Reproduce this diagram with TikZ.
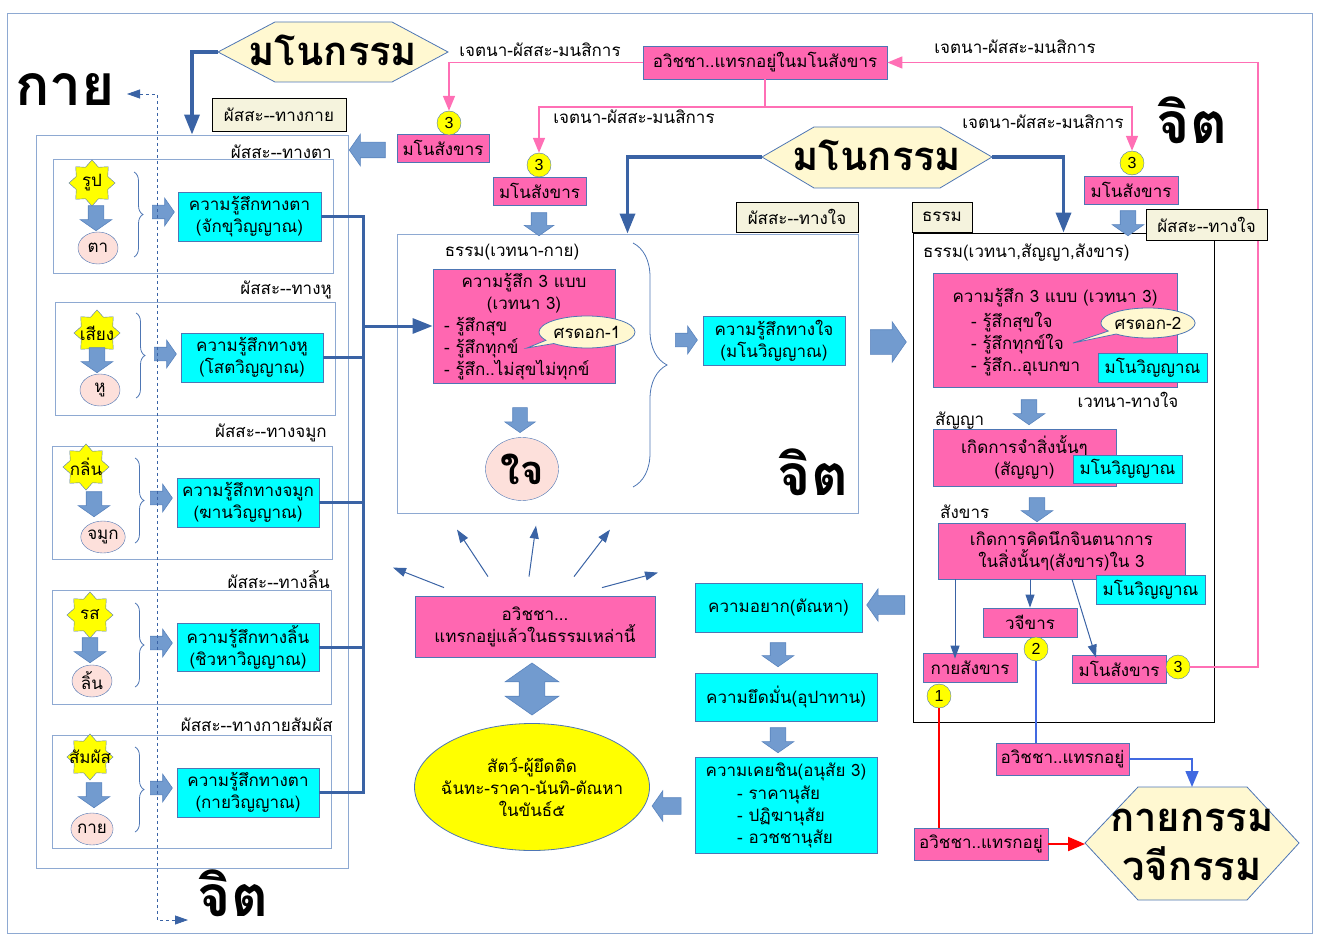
\documentclass[tikz,border=0pt]{standalone}
\usepackage{fontspec}
\setmainfont[Script=Thai]{Loma}
\newfontfamily\numfont{Liberation Sans}
\usetikzlibrary{arrows.meta,shapes.geometric,shapes.arrows,shapes.callouts,decorations.pathreplacing}

\definecolor{framec}{HTML}{8EA9D2}
\definecolor{edgec}{HTML}{4E76B4}
\definecolor{lineblue}{HTML}{3A63A5}
\definecolor{arrowfill}{HTML}{729BCF}
\definecolor{arrowedge}{HTML}{5A84BE}
\definecolor{pinkc}{HTML}{FF67B1}
\definecolor{pinkl}{HTML}{FF6FB5}
\definecolor{cyanc}{HTML}{00FFFF}
\definecolor{creamc}{HTML}{FFF8D1}
\definecolor{tagc}{HTML}{F5F3DD}
\definecolor{organc}{HTML}{FDE0DB}
\definecolor{starc}{HTML}{FFFF00}
\definecolor{royalc}{HTML}{4169E1}

\newcommand\normtxt{\fontsize{17}{22}\selectfont}
\newcommand\bigtxt{\fontsize{57}{60}\selectfont\bfseries}
\newcommand\hextxt{\fontsize{40}{49}\selectfont\bfseries}

\begin{document}
\begin{tikzpicture}[x=1pt,y=-1pt]
	\tikzstyle{box} = [draw=edgec,line width=0.8pt,inner sep=0pt,font=\normtxt,align=center]
	\tikzstyle{cyanbox} = [box,fill=cyanc]
	\tikzstyle{pinkbox} = [box,fill=pinkc]
	\tikzstyle{tagbox} = [draw=black,line width=0.8pt,fill=tagc,inner sep=0pt,font=\normtxt]
	\tikzstyle{panel} = [draw=framec,line width=0.9pt,inner sep=0pt]
	\tikzstyle{lbl} = [inner sep=0pt,font=\normtxt]
	\tikzstyle{objstar} = [star,star points=8,star point ratio=1.35,draw=edgec,fill=starc,minimum size=46pt,inner sep=0pt,font=\normtxt]
	\tikzstyle{organ} = [ellipse,draw=edgec,fill=organc,minimum width=40pt,minimum height=32pt,inner sep=0pt,font=\normtxt]
	\tikzstyle{numc} = [circle,draw=edgec,fill=starc,minimum size=24pt,inner sep=0pt,font={\numfont\fontsize{16}{16}\selectfont}]
	\tikzstyle{blockarrow} = [single arrow,draw=arrowedge,fill=arrowfill,line width=0.6pt,inner xsep=0pt,inner ysep=7.5pt,single arrow head extend=8pt,single arrow head indent=0pt,single arrow tip angle=110]
	\tikzstyle{hexshape} = [draw=edgec,line width=0.8pt,fill=creamc]
	\tikzstyle{bigword} = [inner sep=0pt,font=\bigtxt]
	\tikzstyle{thickline} = [draw=lineblue,line width=3.5pt,>={Triangle[length=20pt,width=15pt]}]
	\tikzstyle{busline} = [draw=lineblue,line width=3pt,>={Triangle[length=20pt,width=15pt]}]
	\tikzstyle{pinkwire} = [draw=pinkl,line width=1.6pt,>={Triangle[length=15pt,width=12pt]}]
	\tikzstyle{thinarrow} = [draw=lineblue,line width=1pt,>={Triangle[length=13pt,width=9pt]}]
	\tikzstyle{sensebrace} = [draw=edgec,line width=0.8pt,decorate,decoration={brace,amplitude=9pt}]
	\tikzstyle{talk} = [ellipse callout,draw=edgec,line width=0.8pt,fill=creamc,minimum width=96pt,minimum height=32pt,inner sep=0pt,font=\normtxt]

	\useasboundingbox (0,0) rectangle (1321,941);
	\draw[draw=framec,line width=1pt] (7,14) rectangle (1312,933);

	% left: the five doors
	\node[bigword] (kay) at (65,90) {กาย};
	\node[bigword] (jit1) at (233,893) {จิต};
	\node[panel,minimum width=312pt,minimum height=733pt] (lbox) at (192,501.5) {};

	\node[panel,minimum width=280pt,minimum height=114pt] (sb1) at (193,216) {};
	\node[panel,minimum width=280pt,minimum height=113pt] (sb2) at (195,358.5) {};
	\node[panel,minimum width=280pt,minimum height=113pt] (sb3) at (192,502.5) {};
	\node[panel,minimum width=279pt,minimum height=114pt] (sb4) at (191.5,647) {};
	\node[panel,minimum width=279pt,minimum height=113pt] (sb5) at (191.5,791.5) {};

	\node[lbl,anchor=east] (lt1) at (332,152) {ผัสสะ-{}-ทางตา};
	\node[lbl,anchor=east] (lt2) at (332,290) {ผัสสะ-{}-ทางหู};
	\node[lbl,anchor=east] (lt3) at (327,433) {ผัสสะ-{}-ทางจมูก};
	\node[lbl,anchor=east] (lt4) at (330,580) {ผัสสะ-{}-ทางลิ้น};
	\node[lbl,anchor=east] (lt5) at (333,725) {ผัสสะ-{}-ทางกายสัมผัส};

	\node[objstar] (st1) at (92,183) {\makebox[0pt]{รูป}};
	\node[objstar] (st2) at (97,333) {\makebox[0pt]{เสียง}};
	\node[objstar] (st3) at (86,467) {\makebox[0pt]{กลิ่น}};
	\node[objstar] (st4) at (90,615) {\makebox[0pt]{รส}};
	\node[objstar] (st5) at (90,757) {\makebox[0pt]{สัมผัส}};

	\node[blockarrow,minimum height=25pt,rotate=-90] (da1) at (96,215.5) {};
	\node[blockarrow,minimum height=25pt,rotate=-90] (da2) at (97,357.5) {};
	\node[blockarrow,minimum height=25pt,rotate=-90] (da3) at (94,501.5) {};
	\node[blockarrow,minimum height=25pt,rotate=-90] (da4) at (90,647.5) {};
	\node[blockarrow,minimum height=25pt,rotate=-90] (da5) at (94,792.5) {};

	\node[organ] (og1) at (98,248) {ตา};
	\node[organ] (og2) at (100,390) {หู};
	\node[organ] (og3) at (103,537) {จมูก};
	\node[organ] (og4) at (92,681) {ลิ้น};
	\node[organ] (og5) at (92,829) {กาย};

	\draw[sensebrace] (134,172) -- (134,257);
	\draw[sensebrace] (136,313) -- (136,398);
	\draw[sensebrace] (135,458) -- (135,543);
	\draw[sensebrace] (135,603) -- (135,687);
	\draw[sensebrace] (135,747) -- (135,832);

	\node[blockarrow,minimum height=22pt,inner ysep=6.5pt,single arrow head extend=7pt] (ra1) at (161,212) {};
	\node[blockarrow,minimum height=22pt,inner ysep=6.5pt,single arrow head extend=7pt] (ra2) at (163,354) {};
	\node[blockarrow,minimum height=22pt,inner ysep=6.5pt,single arrow head extend=7pt] (ra3) at (159,498) {};
	\node[blockarrow,minimum height=22pt,inner ysep=6.5pt,single arrow head extend=7pt] (ra4) at (159,643) {};
	\node[blockarrow,minimum height=22pt,inner ysep=6.5pt,single arrow head extend=7pt] (ra5) at (159,788) {};

	\node[cyanbox,minimum width=143pt,minimum height=49pt] (cy1) at (249.5,216.5) {ความรู้สึกทางตา\\(จักขุวิญญาณ)};
	\node[cyanbox,minimum width=142pt,minimum height=49pt] (cy2) at (252,357.5) {ความรู้สึกทางหู\\(โสตวิญญาณ)};
	\node[cyanbox,minimum width=142pt,minimum height=49pt] (cy3) at (248,502.5) {ความรู้สึกทางจมูก\\(ฆานวิญญาณ)};
	\node[cyanbox,minimum width=142pt,minimum height=48pt] (cy4) at (248,647) {ความรู้สึกทางลิ้น\\(ชิวหาวิญญาณ)};
	\node[cyanbox,minimum width=142pt,minimum height=49pt] (cy5) at (248,792.5) {ความรู้สึกทางตา\\(กายวิญญาณ)};

	\coordinate (dk) at (127,94);
	\coordinate (dmid) at (157,500);
	\coordinate (dj) at (188,920);
	\draw[draw=lineblue,line width=0.8pt,dashed,{Triangle[length=13pt,width=9pt]}-{Triangle[length=13pt,width=9pt]}] (dk) -| (dmid) |- (dj);

	% top left
	\draw[hexshape] (218,52) -- (275,22) -- (392,22) -- (448,52) -- (392,82) -- (275,82) -- cycle;
	\node[inner sep=0pt,font=\hextxt] (mk1) at (333,50) {มโนกรรม};
	\coordinate (mk1w) at (218,52);
	\draw[thickline,->] (mk1w) -| (lbox.north);
	\node[tagbox,minimum width=134pt,minimum height=33pt] (pt1) at (279,115) {ผัสสะ-{}-ทางกาย};

	\node[pinkbox,minimum width=92pt,minimum height=28pt] (ms1) at (443,148) {มโนสังขาร};
	\node[numc] (c3a) at (449,123) {3};
	\node[blockarrow,minimum height=36pt,rotate=180] (la1) at (370,150) {};

	% bus to the middle
	\coordinate (bus) at (363,500);
	\draw[busline] (cy1.east) -| (bus) |- (cy5.east);
	\draw[busline] (cy2.east) -- (cy2.east -| bus);
	\draw[busline] (cy3.east) -- (cy3.east -| bus);
	\draw[busline] (cy4.east) -- (cy4.east -| bus);

	% top middle
	\node[pinkbox,minimum width=244pt,minimum height=33pt] (avm) at (765,62.5) {อวิชชา..แทรกอยู่ในมโนสังขาร};
	\node[pinkbox,minimum width=93pt,minimum height=28pt] (ms2) at (539.5,191) {มโนสังขาร};
	\node[numc] (c3b) at (539,165) {3};
	\node[pinkbox,minimum width=94pt,minimum height=28pt] (ms3) at (1131,190) {มโนสังขาร};
	\node[numc] (c3c) at (1132,163) {3};
	\node[bigword] (jit3) at (1192,120) {จิต};

	\coordinate (sp) at (765,107);
	\draw[pinkwire,->] (avm.west) -| (c3a.north);
	\draw[pinkwire] (avm.south) -- (sp);
	\draw[pinkwire,->] (sp) -| (c3b.north);
	\draw[pinkwire,->] (sp) -| (c3c.north);
	\node[lbl] (je1) at (540,50) {เจตนา-ผัสสะ-มนสิการ};
	\node[lbl] (je2) at (634,117) {เจตนา-ผัสสะ-มนสิการ};
	\node[lbl] (je3) at (1043,122) {เจตนา-ผัสสะ-มนสิการ};
	\node[lbl] (je4) at (1015,47) {เจตนา-ผัสสะ-มนสิการ};

	\draw[hexshape] (762,157) -- (814,127) -- (940,127) -- (992,157) -- (940,188) -- (814,188) -- cycle;
	\node[inner sep=0pt,font=\hextxt] (mk2) at (877,155) {มโนกรรม};
	\coordinate (mk2w) at (762,157);
	\coordinate (mk2e) at (992,157);

	% middle box
	\node[panel,minimum width=461pt,minimum height=279pt] (mbox) at (627.5,373.5) {};
	\node[tagbox,minimum width=122pt,minimum height=30pt] (pt2) at (797,217) {ผัสสะ-{}-ทางใจ};
	\draw[thickline,->] (mk2w) -| (mbox.north);
	\node[blockarrow,minimum height=23pt,single arrow head extend=7pt,rotate=-90] (da6) at (539,221.5) {};
	\node[lbl] (dh1) at (512,252) {ธรรม(เวทนา-กาย)};
	\node[pinkbox,minimum width=182pt,minimum height=114pt] (vp1) at (524,326) {};
	\node[lbl,align=center] (vp1a) at (524,293) {ความรู้สึก 3 แบบ\\(เวทนา 3)};
	\node[lbl,align=left,anchor=west] (vp1b) at (444,349) {- รู้สึกสุข\\- รู้สึกทุกข์\\- รู้สึก..ไม่สุขไม่ทุกข์};
	\node[talk,callout absolute pointer={(527,348)}] (sd1) at (587,332) {ศรดอก-1};
	\draw[busline,->] (bus |- vp1.west) -- (vp1.west);
	\draw[draw=edgec,line width=0.8pt,decorate,decoration={brace,amplitude=34pt}] (633,243) -- (633,487);
	\node[blockarrow,minimum height=22pt,inner ysep=6.5pt,single arrow head extend=7pt] (ra6) at (684,340) {};
	\node[cyanbox,minimum width=142pt,minimum height=49pt] (mv1) at (774,340.5) {ความรู้สึกทางใจ\\(มโนวิญญาณ)};
	\node[blockarrow,minimum height=25pt,inner ysep=7pt,rotate=-90] (da7) at (520,417.5) {};
	\node[organ,minimum width=73pt,minimum height=63pt,font=\fontsize{40}{40}\selectfont\bfseries] (jai) at (522,469) {ใจ};
	\node[bigword] (jit2) at (813,472) {จิต};
	\node[blockarrow,minimum height=36pt,inner ysep=12pt,single arrow head extend=8pt] (ra7) at (884,342) {};

	% right box
	\node[tagbox,minimum width=60pt,minimum height=30pt] (pt3) at (942,217) {ธรรม};
	\node[draw=black,line width=0.9pt,inner sep=0pt,minimum width=301pt,minimum height=489pt] (rbox) at (1063.5,477.5) {};
	\draw[thickline,->] (mk2e) -| (rbox.north);
	\node[blockarrow,minimum height=25pt,rotate=-90] (da8) at (1128,220.5) {};
	\node[lbl,anchor=west] (dh2) at (923,253) {ธรรม(เวทนา,สัญญา,สังขาร)};
	\node[pinkbox,minimum width=244pt,minimum height=114pt] (vp2) at (1055,330) {};
	\node[lbl] (vp2a) at (1055,298) {ความรู้สึก 3 แบบ (เวทนา 3)};
	\node[lbl,align=left,anchor=west] (vp2b) at (971,344) {- รู้สึกสุขใจ\\- รู้สึกทุกข์ใจ\\- รู้สึก..อุเบกขา};
	\node[talk,minimum width=93pt,minimum height=30pt,callout absolute pointer={(1073,343)}] (sd2) at (1148,323) {ศรดอก-2};
	\node[cyanbox,minimum width=109pt,minimum height=29pt] (mv2) at (1152.5,367.5) {มโนวิญญาณ};
	\node[lbl] (vt) at (1128,400) {เวทนา-ทางใจ};
	\node[blockarrow,minimum height=25pt,rotate=-90] (da9) at (1029,409.5) {};
	\node[lbl,anchor=west] (sy) at (935,421) {สัญญา};
	\node[pinkbox,minimum width=183pt,minimum height=57pt] (sn) at (1024.5,457.5) {เกิดการจำสิ่งนั้นๆ\\(สัญญา)};
	\node[cyanbox,minimum width=109pt,minimum height=28pt] (mv3) at (1127.5,469) {มโนวิญญาณ};
	\node[blockarrow,minimum height=24pt,rotate=-90] (da10) at (1037,507) {};
	\node[lbl,anchor=west] (sk0) at (940,512) {สังขาร};
	\node[pinkbox,minimum width=247pt,minimum height=56pt] (sk) at (1061.5,551) {เกิดการคิดนึกจินตนาการ\\ในสิ่งนั้นๆ(สังขาร)ใน 3};
	\node[cyanbox,minimum width=109pt,minimum height=29pt] (mv4) at (1150.5,589.5) {มโนวิญญาณ};

	\node[pinkbox,minimum width=94pt,minimum height=29pt] (vj) at (1030,622.5) {วจีขาร};
	\node[pinkbox,minimum width=94pt,minimum height=29pt] (ksb) at (970,667.5) {กายสังขาร};
	\node[pinkbox,minimum width=94pt,minimum height=28pt] (mns) at (1119,669) {มโนสังขาร};
	\node[numc] (c2) at (1036,649) {2};
	\node[numc] (c1) at (939,696) {1};
	\node[numc] (c3d) at (1178,667) {3};
	\draw[thinarrow,->] ([xshift=-106.5pt]sk.south) -- ([xshift=-106.5pt,yshift=-6pt]sk.south |- ksb.north);
	\draw[thinarrow,->] (vj.north |- sk.south) -- (vj.north);
	\draw[thinarrow,->] ([xshift=10.5pt]sk.south) -- ([xshift=-23pt,yshift=-3pt]mns.north);

	\coordinate (pr) at (1258,300);
	\draw[pinkwire,->] (c3d.east) -| (pr) |- (avm.east);
	\node[tagbox,minimum width=121pt,minimum height=31pt] (pt4) at (1206.5,224.5) {ผัสสะ-{}-ทางใจ};

	% actions
	\node[pinkbox,minimum width=133pt,minimum height=32pt] (av2) at (1062.5,759) {อวิชชา..แทรกอยู่};
	\node[pinkbox,minimum width=134pt,minimum height=32pt] (av3) at (981,844) {อวิชชา..แทรกอยู่};
	\draw[hexshape] (1085,843) -- (1138,787) -- (1247,787) -- (1299,843) -- (1247,900) -- (1138,900) -- cycle;
	\node[inner sep=0pt,font=\hextxt,align=center] (kv) at (1192,845) {กายกรรม\\วจีกรรม};
	\coordinate (kvn) at (1192,787);
	\coordinate (kvw) at (1085,844);
	\draw[draw=royalc,line width=1.6pt] (c2.south) -- (c2.south |- av2.north);
	\draw[draw=royalc,line width=1.6pt,-{Triangle[length=16pt,width=13pt]}] (av2.east) -| (kvn);
	\draw[draw=red,line width=2pt] (c1.south) -- (c1.south |- av3.north);
	\draw[draw=red,line width=2pt,-{Triangle[length=17pt,width=14pt]}] (av3.east) -- (kvw);

	% bottom middle
	\node[pinkbox,minimum width=240pt,minimum height=61pt] (av1) at (535,626.5) {อวิชชา...\\แทรกอยู่แล้วในธรรมเหล่านี้};
	\draw[thinarrow,->] ([shift={(-91,-8)}]av1.north) -- ([shift={(-142,-28)}]av1.north);
	\draw[thinarrow,->] ([shift={(-47,-19)}]av1.north) -- ([shift={(-78,-66)}]av1.north);
	\draw[thinarrow,->] ([shift={(-6,-19)}]av1.north) -- ([shift={(1,-70)}]av1.north);
	\draw[thinarrow,->] ([shift={(39,-19)}]av1.north) -- ([shift={(75,-66)}]av1.north);
	\draw[thinarrow,->] ([shift={(67,-8)}]av1.north) -- ([shift={(123,-23)}]av1.north);
	\node[double arrow,draw=arrowedge,fill=arrowfill,line width=0.6pt,inner xsep=0pt,inner ysep=12.5pt,double arrow head extend=14pt,double arrow head indent=0pt,double arrow tip angle=110,minimum height=52pt,rotate=90] (dbl) at (532,689) {};
	\node[ellipse,draw=edgec,line width=0.8pt,fill=starc,minimum width=235pt,minimum height=127pt,inner xsep=-9pt,inner ysep=0pt,font=\normtxt,align=center] (ye) at (532,787) {สัตว์-ผู้ยึดติด\\ฉันทะ-ราคา-นันทิ-ตัณหา\\ในขันธ์๕};

	\node[cyanbox,minimum width=167pt,minimum height=49pt] (ta) at (778.5,607.5) {ความอยาก(ตัณหา)};
	\node[blockarrow,minimum height=38pt,inner ysep=9pt,single arrow head extend=7pt,rotate=180] (la2) at (889,605) {};
	\node[blockarrow,minimum height=24pt,rotate=-90] (da11) at (778,652) {};
	\node[cyanbox,minimum width=182pt,minimum height=48pt] (up) at (786,697) {ความยึดมั่น(อุปาทาน)};
	\node[blockarrow,minimum height=25pt,rotate=-90] (da12) at (778,737.5) {};
	\node[cyanbox,minimum width=182pt,minimum height=96pt] (an) at (786,805) {};
	\node[lbl] (an1) at (786,772) {ความเคยชิน(อนุสัย 3)};
	\node[lbl,align=left,anchor=west] (an2) at (737,817) {- ราคานุสัย\\- ปฏิฆานุสัย\\- อวชชานุสัย};
	\node[blockarrow,minimum height=29pt,inner ysep=8pt,single arrow head extend=7pt,rotate=180] (la3) at (669.5,806) {};
\end{tikzpicture}
\end{document}
